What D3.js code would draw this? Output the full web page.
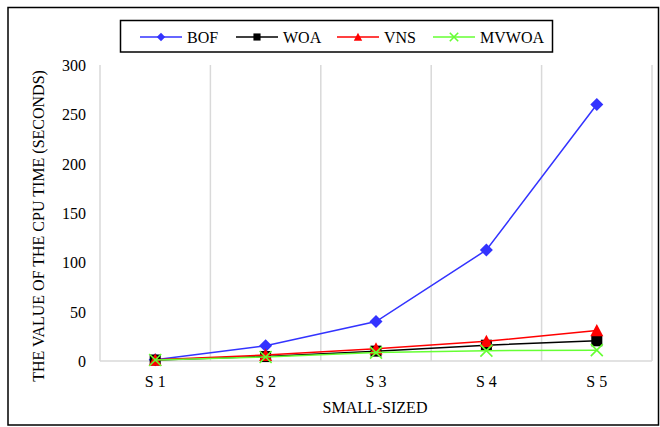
<!DOCTYPE html>
<html><head><meta charset="utf-8">
<script src="https://cdn.jsdelivr.net/npm/d3@7"></script>
<style>body{margin:0;background:#fff}svg{display:block}</style>
</head><body>
<svg id="c" width="660" height="427"></svg>
<script>
const categories = ["S 1","S 2","S 3","S 4","S 5"];
const seriesNames = ["BOF","WOA","VNS","MVWOA"];
const bof   = [1.2, 15.5, 40, 112.5, 260];
const woa   = [1.0, 4.5, 10, 16, 20.5];
const vns   = [1.2, 6, 12.5, 20, 31];
const mvwoa = [1.0, 4, 8.5, 10.5, 11];
const yTicks = [0, 50, 100, 150, 200, 250, 300];

const colors = {BOF:"#3333ff", WOA:"#000000", VNS:"#ff0000", MVWOA:"#66ff33"};
const series = [
  {name:"BOF", values:bof, sym:"diamond"},
  {name:"WOA", values:woa, sym:"square"},
  {name:"VNS", values:vns, sym:"triangle"},
  {name:"MVWOA", values:mvwoa, sym:"x"}
];
const font = "Liberation Serif, serif";
const fs = 16;
const svg = d3.select("#c");
svg.append("rect").attr("x",8).attr("y",7.5).attr("width",650.5).attr("height",417.5)
  .attr("fill","#fff").attr("stroke","#000").attr("stroke-width",1.5);

const L=100, R=652, T=65, B=361;
const x = d3.scaleBand().domain(categories).range([L,R]);
const y = d3.scaleLinear().domain([0,300]).range([B,T]);

const g = svg.append("g");
const bounds = categories.map(c=>x(c)+x.bandwidth());
g.selectAll("line.v").data(bounds).enter().append("line")
  .attr("x1",d=>d).attr("x2",d=>d).attr("y1",T).attr("y2",B)
  .attr("stroke","#d9d9d9").attr("stroke-width",1.5);
g.append("line").attr("x1",L).attr("x2",L).attr("y1",T).attr("y2",B).attr("stroke","#d9d9d9").attr("stroke-width",1.5);
g.append("line").attr("x1",L).attr("x2",R).attr("y1",B).attr("y2",B).attr("stroke","#d9d9d9").attr("stroke-width",1.5);

const ya = svg.append("g").attr("transform",`translate(${L-14},0)`)
  .call(d3.axisLeft(y).tickValues(yTicks).tickSize(0).tickPadding(0));
ya.select(".domain").remove();
ya.selectAll("text").attr("font-family",font).attr("font-size",fs).attr("fill","#000").attr("dy","0.35em");

const xa = svg.append("g").attr("transform",`translate(0,${B+14})`)
  .call(d3.axisBottom(x).tickSize(0).tickPadding(0));
xa.select(".domain").remove();
xa.selectAll("text").attr("font-family",font).attr("font-size",fs).attr("fill","#000").attr("dy","0.75em");

svg.append("text").attr("x",(L+R)/2-1).attr("y",413).attr("text-anchor","middle")
  .attr("font-family",font).attr("font-size",fs).text("SMALL-SIZED");
svg.append("text").attr("transform",`translate(44,${(T+B)/2+13}) rotate(-90)`).attr("text-anchor","middle")
  .attr("font-family",font).attr("font-size",fs).text("THE VALUE OF THE CPU TIME (SECONDS)");

const cx = c => x(c)+x.bandwidth()/2;
const line = d3.line().x((d,i)=>cx(categories[i])).y(d=>y(d));

function drawMarker(sel, s, px, py, r){
  const c = colors[s.name];
  let d;
  if(s.sym==="x"){
    sel.append("path").attr("d",`M${px-r},${py-r}L${px+r},${py+r}M${px+r},${py-r}L${px-r},${py+r}`)
      .attr("stroke",c).attr("stroke-width",1.6).attr("fill","none");
    return;
  }
  if(s.sym==="diamond") d=`M${px},${py-r}L${px+r},${py}L${px},${py+r}L${px-r},${py}Z`;
  else if(s.sym==="square"){ const h=r*0.85; d=`M${px-h},${py-h}H${px+h}V${py+h}H${px-h}Z`; }
  else { d=`M${px},${py-r}L${px+r},${py+r*0.9}L${px-r},${py+r*0.9}Z`; }
  sel.append("path").attr("d",d).attr("fill",c);
}

series.forEach(s=>{
  const sg = svg.append("g");
  sg.append("path").datum(s.values).attr("d",line).attr("fill","none")
    .attr("stroke",colors[s.name]).attr("stroke-width",1.5);
  s.values.forEach((v,i)=>drawMarker(sg,s,cx(categories[i]),y(v), s.sym==="diamond"?6.5:(s.sym==="square"?6.5:(s.sym==="x"?6:6.5))));
});

svg.append("rect").attr("x",120.5).attr("y",20.5).attr("width",432).attr("height",31.5)
  .attr("fill","#fff").attr("stroke","#000").attr("stroke-width",1.5);
const legX = [140,236,337,433];
series.forEach((s,i)=>{
  const lg = svg.append("g");
  const x0=legX[i], ly=37;
  lg.append("line").attr("x1",x0).attr("x2",x0+42).attr("y1",ly).attr("y2",ly)
    .attr("stroke",colors[s.name]).attr("stroke-width",1.5);
  drawMarker(lg, s, x0+21, ly, 4.2);
  lg.append("text").attr("x",x0+47).attr("y",ly).attr("dy","0.35em")
    .attr("font-family",font).attr("font-size",fs).text(s.name);
});
</script>
</body></html>
